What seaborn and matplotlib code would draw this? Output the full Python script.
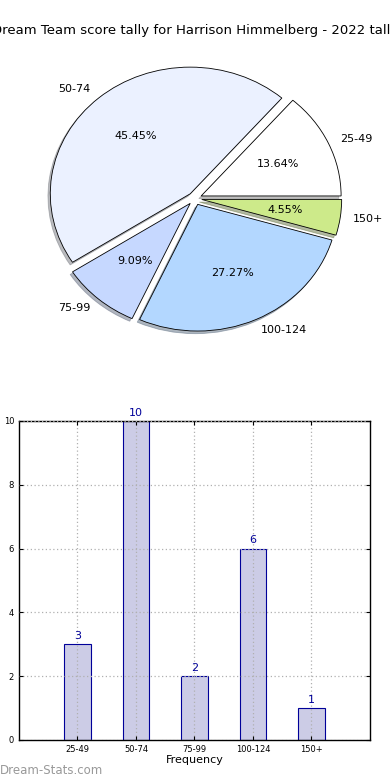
import matplotlib
matplotlib.use("Agg")
import matplotlib.pyplot as plt
import seaborn as sns
import pandas as pd

categories = ["25-49", "50-74", "75-99", "100-124", "150+"]
counts = [3, 10, 2, 6, 1]
pie_colors = ["#ffffff", "#ebf1ff", "#c6d8ff", "#b3d7ff", "#cdea8a"]
title = "Dream Team score tally for Harrison Himmelberg - 2022 tally"
yticks = [0, 2, 4, 6, 8, 10]

plt.rcParams['font.family'] = ['DejaVu Sans']
fig = plt.figure(figsize=(3.9, 7.8), dpi=100)

# Pie chart
ax1 = fig.add_axes([0.051, 0.5424, 0.897, 0.406])
ax1.pie(counts, labels=categories, colors=pie_colors, explode=[0.05] * len(counts),
        autopct="%.2f%%", shadow=dict(ox=-0.012, oy=-0.015, shade=0.5),
        startangle=0, labeldistance=1.09,
        wedgeprops=dict(edgecolor="black", linewidth=0.6),
        textprops=dict(fontsize=8))
ax1.set_aspect("auto")
ax1.set_xlim(-1.25, 1.25)
ax1.set_ylim(-1.25, 1.25)
fig.text(0.5, 0.961, title, ha="center", va="center", fontsize=9.5)

# Bar chart
ax2 = fig.add_axes([0.0487, 0.0513, 0.9, 0.409])
df = pd.DataFrame({"cat": categories, "n": counts})
sns.barplot(data=df, x="cat", y="n", ax=ax2, width=0.45, color="#ccccE6",
            saturation=1, edgecolor="#000099", linewidth=0.8)
for i, v in enumerate(counts):
    ax2.text(i, v + 0.1, str(v), ha="center", va="bottom", fontsize=8, color="#000099")
ax2.set_xlim(-1, 5)
ax2.set_ylim(0, 10)
ax2.set_yticks(yticks)
ax2.tick_params(labelsize=6, direction="in", length=3, top=True, right=True)
ax2.set_xlabel("Frequency", fontsize=8, labelpad=1)
ax2.set_ylabel("Occurrences", fontsize=8, labelpad=3)
ax2.yaxis.set_label_coords(-0.052, 0.5)
ax2.grid(True, linestyle=(0, (1, 2)), color="#b0b0b0", linewidth=0.9)
ax2.set_axisbelow(False)
for s in ax2.spines.values():
    s.set_color("black")
    s.set_linewidth(1)

fig.text(0.0, 0.004, "Dream-Stats.com", fontsize=8.5, color="#999999", ha="left", va="bottom")

fig.savefig("out.png", dpi=100)
